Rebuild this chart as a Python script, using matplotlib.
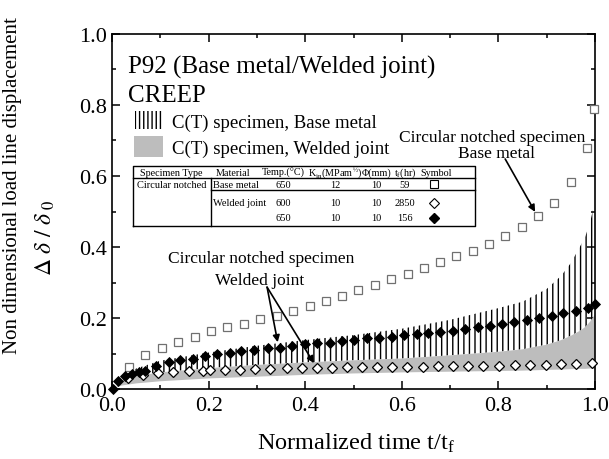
import matplotlib
matplotlib.use("Agg")
import matplotlib.pyplot as plt
from matplotlib.patches import Rectangle

plt.rcParams['font.family'] = ['Liberation Serif', 'DejaVu Serif']
plt.rcParams['mathtext.fontset'] = 'stix'
plt.rcParams['hatch.linewidth'] = 1.0

# circular notched, base metal (open squares)
sq_t = [0.035, 0.068, 0.103, 0.137, 0.172, 0.205, 0.239, 0.273, 0.306, 0.341,
        0.374, 0.409, 0.442, 0.476, 0.510, 0.544, 0.578, 0.612, 0.646, 0.680,
        0.713, 0.747, 0.781, 0.814, 0.848, 0.881, 0.915, 0.950, 0.983, 0.997]
sq_v = [0.061, 0.096, 0.117, 0.133, 0.147, 0.163, 0.174, 0.183, 0.197, 0.207,
        0.220, 0.235, 0.249, 0.263, 0.278, 0.293, 0.309, 0.323, 0.341, 0.357,
        0.376, 0.390, 0.408, 0.430, 0.457, 0.488, 0.523, 0.582, 0.680, 0.790]

# circular notched, welded joint 600C (open diamonds)
od_t = [0.034, 0.065, 0.096, 0.127, 0.159, 0.189, 0.203, 0.234, 0.265, 0.296,
        0.327, 0.362, 0.393, 0.424, 0.455, 0.486, 0.517, 0.548, 0.580, 0.611,
        0.643, 0.675, 0.706, 0.738, 0.769, 0.802, 0.834, 0.866, 0.898, 0.930,
        0.961, 0.993]
od_v = [0.030, 0.039, 0.045, 0.047, 0.050, 0.052, 0.054, 0.054, 0.055, 0.056,
        0.057, 0.058, 0.059, 0.059, 0.060, 0.061, 0.061, 0.062, 0.062, 0.063,
        0.063, 0.064, 0.064, 0.065, 0.066, 0.066, 0.067, 0.068, 0.069, 0.070,
        0.071, 0.073]

# circular notched, welded joint 650C (filled diamonds)
fd_t = [0.001, 0.013, 0.027, 0.041, 0.055, 0.068, 0.091, 0.117, 0.141, 0.167,
        0.193, 0.217, 0.244, 0.268, 0.293, 0.322, 0.348, 0.372, 0.400, 0.424,
        0.451, 0.476, 0.501, 0.527, 0.553, 0.579, 0.605, 0.631, 0.655, 0.680,
        0.707, 0.731, 0.758, 0.783, 0.807, 0.833, 0.859, 0.885, 0.910, 0.934,
        0.961, 0.986, 0.999]
fd_v = [0.000, 0.024, 0.036, 0.042, 0.049, 0.052, 0.066, 0.075, 0.082, 0.086,
        0.092, 0.098, 0.101, 0.106, 0.111, 0.115, 0.117, 0.122, 0.126, 0.129,
        0.131, 0.136, 0.139, 0.143, 0.145, 0.148, 0.152, 0.155, 0.158, 0.161,
        0.164, 0.169, 0.174, 0.178, 0.183, 0.188, 0.194, 0.199, 0.207, 0.214,
        0.221, 0.229, 0.240]

# C(T) specimen bands
ct_t = [0.01, 0.02, 0.05, 0.1, 0.2, 0.3, 0.4, 0.5, 0.6, 0.7, 0.8, 0.85, 0.9,
        0.93, 0.95, 0.97, 0.98, 0.99, 1.0]
base_top = [0.020, 0.035, 0.058, 0.080, 0.103, 0.122, 0.138, 0.152, 0.170,
            0.195, 0.228, 0.246, 0.282, 0.319, 0.355, 0.404, 0.430, 0.470, 0.530]
weld_top = [0.015, 0.024, 0.037, 0.047, 0.059, 0.068, 0.075, 0.081, 0.086,
            0.095, 0.105, 0.112, 0.125, 0.138, 0.150, 0.165, 0.175, 0.190, 0.210]
weld_low = [0.006, 0.010, 0.016, 0.022, 0.030, 0.035, 0.040, 0.044, 0.047,
            0.049, 0.051, 0.052, 0.054, 0.055, 0.056, 0.057, 0.057, 0.058, 0.058]

tbl_header = ["Specimen Type", "Material", "Temp.(\u00b0C)",
              "K$_{\\mathregular{in}}$(MPam$^{\\mathregular{\u00bd}}$)",
              "\u03a6(mm)", r"t$_{\mathregular{f}}$(hr)", "Symbol"]
tbl_rows = [["Circular notched", "Base metal", "650", "12", "10", "59"],
            ["", "Welded joint", "600", "10", "10", "2850"],
            ["", "", "650", "10", "10", "156"]]

grey = '#bdbdbd'
sq_col = '#707070'

fig = plt.figure(figsize=(6.09, 4.6), dpi=100)
ax = fig.add_axes([0.184, 0.152, 0.793, 0.772])

ax.fill_between(ct_t, weld_top, base_top, facecolor='none', edgecolor='k',
                hatch='|||', linewidth=0, zorder=1)
ax.fill_between(ct_t, weld_low, weld_top, facecolor=grey, edgecolor='none',
                linewidth=0, zorder=2)
ax.plot(sq_t, sq_v, 's', ms=6.3, mfc='white', mec=sq_col, mew=0.9, ls='none',
        zorder=3, clip_on=False)
ax.plot(od_t, od_v, 'D', ms=5.2, mfc='white', mec='k', mew=0.9, ls='none',
        zorder=4, clip_on=False)
ax.plot(fd_t, fd_v, 'D', ms=5.6, mfc='k', mec='k', mew=0.6, ls='none',
        zorder=5, clip_on=False)

ax.set_xlim(0, 1.0)
ax.set_ylim(0, 1.0)
ax.set_xticks([0, 0.2, 0.4, 0.6, 0.8, 1.0])
ax.set_yticks([0, 0.2, 0.4, 0.6, 0.8, 1.0])
ax.set_xticks([0.1, 0.3, 0.5, 0.7, 0.9], minor=True)
ax.set_yticks([0.1, 0.3, 0.5, 0.7, 0.9], minor=True)
ax.set_xticklabels(["0.0", "0.2", "0.4", "0.6", "0.8", "1.0"])
ax.set_yticklabels(["0.0", "0.2", "0.4", "0.6", "0.8", "1.0"])
ax.tick_params(which='both', direction='in', top=True, right=True, width=1.1,
               labelsize=16)
ax.tick_params(which='major', length=5.5)
ax.tick_params(which='minor', length=3)
ax.tick_params(axis='x', pad=5)
ax.tick_params(axis='y', pad=4)
for s in ax.spines.values():
    s.set_linewidth(1.2)

fig.text(356 / 609, 1 - 450 / 460, r"Normalized time t/t$_\mathregular{f}$",
         ha='center', va='baseline', fontsize=17.5)
fig.text(13 / 609, 1 - 186 / 460, "Non dimensional load line displacement",
         rotation=90, ha='center', va='center', fontsize=15)
fig.text(45 / 609, 1 - 238 / 460, r"$\Delta\ \delta\ /\ \delta_{\ 0}$",
         rotation=90, ha='center', va='center', fontsize=17)

tr = ax.transAxes
ax.text(0.033, 0.890, "P92 (Base metal/Welded joint)", transform=tr,
        fontsize=18, va='baseline')
ax.text(0.033, 0.811, "CREEP", transform=tr, fontsize=18, va='baseline')
ax.add_patch(Rectangle((0.048, 0.732), 0.058, 0.051, transform=tr,
                       facecolor='none', edgecolor='k', hatch='||||', lw=0))
ax.text(0.124, 0.738, "C(T) specimen, Base metal", transform=tr,
        fontsize=13.5, va='baseline')
ax.add_patch(Rectangle((0.046, 0.654), 0.060, 0.059, transform=tr,
                       facecolor=grey, edgecolor='none'))
ax.text(0.124, 0.665, "C(T) specimen, Welded joint", transform=tr,
        fontsize=13.5, va='baseline')

# table
tx0, tx1, tmid = 0.0435, 0.7516, 0.205
ty0, ty1, thead, trow1 = 0.459, 0.628, 0.5935, 0.5614
lk = dict(color='k', lw=1.0, transform=tr, zorder=6)
ax.plot([tx0, tx1, tx1, tx0, tx0], [ty0, ty0, ty1, ty1, ty0], **lk)
ax.plot([tx0, tx1], [thead, thead], **lk)
ax.plot([tmid, tx1], [trow1, trow1], **lk)
ax.plot([tmid, tmid], [ty0, thead], **lk)
ax.add_patch(Rectangle((tx0, ty0), tx1 - tx0, ty1 - ty0, transform=tr,
                       facecolor='white', edgecolor='none', zorder=5.5))
col_x = [0.1236, 0.2505, 0.354, 0.4617, 0.548, 0.6066, 0.672]
row_y = [0.577, 0.525, 0.482]
for x, h in zip(col_x, tbl_header):
    ax.text(x, 0.611, h, transform=tr, fontsize=7.3, ha='center',
            va='center', zorder=7)
for y, row in zip(row_y, tbl_rows):
    ax.text(0.051, y, row[0], transform=tr, fontsize=7.5, va='center', zorder=7)
    ax.text(0.2097, y, row[1], transform=tr, fontsize=7.5, va='center', zorder=7)
    for x, val in zip(col_x[2:6], row[2:]):
        ax.text(x, y, val, transform=tr, fontsize=7.5, ha='center',
                va='center', zorder=7)
ax.plot([0.666], [row_y[0]], 's', ms=6, mfc='white', mec='k', mew=0.8,
        transform=tr, zorder=7)
ax.plot([0.666], [row_y[1]], 'D', ms=5, mfc='white', mec='k', mew=0.8,
        transform=tr, zorder=7)
ax.plot([0.666], [row_y[2]], 'D', ms=5.5, mfc='k', mec='k',
        transform=tr, zorder=7)

# annotations
arw = dict(arrowstyle='-|>', color='k', lw=1.2, mutation_scale=10,
           shrinkA=0, shrinkB=0)
ax.text(0.788, 0.699, "Circular notched specimen", fontsize=12.5,
        ha='center', va='baseline')
ax.text(0.796, 0.653, "Base metal", fontsize=12.5, ha='center', va='baseline')
ax.annotate("", xy=(0.876, 0.499), xytext=(0.814, 0.648), arrowprops=arw)
ax.text(0.308, 0.359, "Circular notched specimen", fontsize=12.5,
        ha='center', va='baseline')
ax.text(0.306, 0.296, "Welded joint", fontsize=12.5, ha='center', va='baseline')
ax.annotate("", xy=(0.343, 0.132), xytext=(0.321, 0.287), arrowprops=arw)
ax.annotate("", xy=(0.418, 0.073), xytext=(0.321, 0.287), arrowprops=arw)

fig.savefig("out.png", dpi=100)
